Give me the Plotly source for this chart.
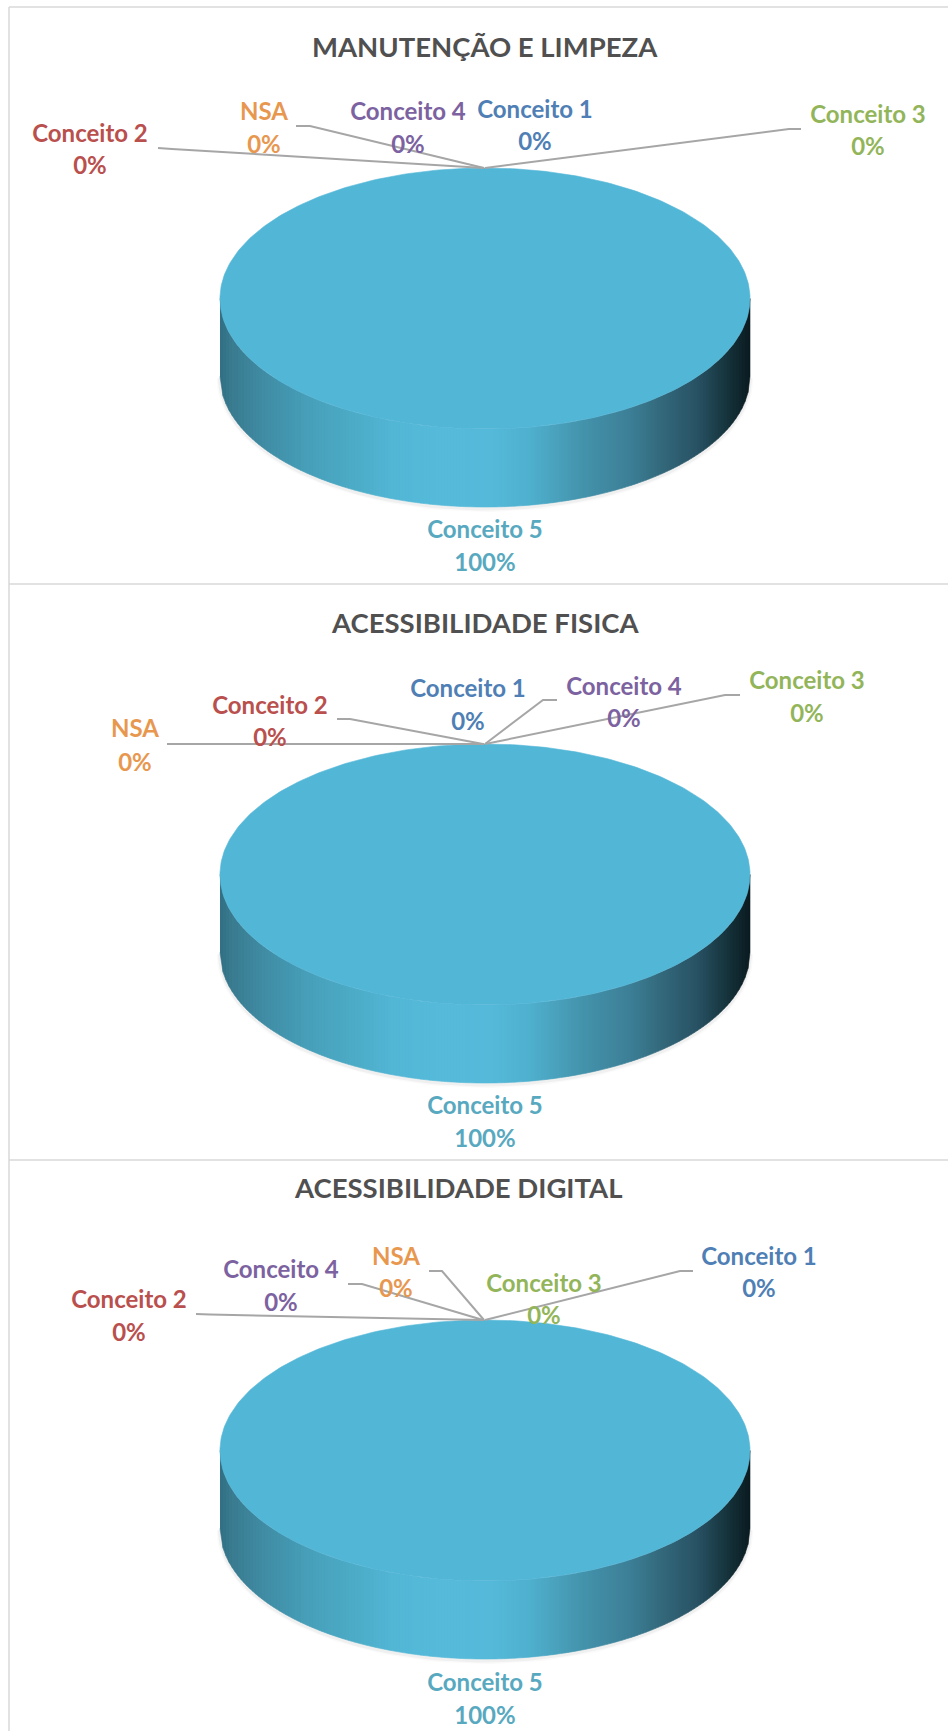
import math
import plotly.graph_objects as go

# ---- data ----
categories = ["Conceito 1", "Conceito 2", "Conceito 3", "Conceito 4", "Conceito 5", "NSA"]
chart_titles = ["MANUTENÇÃO E LIMPEZA", "ACESSIBILIDADE FISICA", "ACESSIBILIDADE DIGITAL"]
values_manutencao = [0, 0, 0, 0, 100, 0]
values_fisica = [0, 0, 0, 0, 100, 0]
values_digital = [0, 0, 0, 0, 100, 0]
all_values = [values_manutencao, values_fisica, values_digital]

# ---- style and layout ----
W, H = 948, 1731
FONT = "Lato"
label_colors = ["#4F7FB5", "#B9504E", "#93B55A", "#7C62A0", "#58A9C0", "#E8974F"]
title_color = "#505050"
leader_color = "#A6A6A6"
top_color = "#52B6D6"
side_stops = [(0.0, "#316F84"), (0.02, "#397A8E"), (0.075, "#3F8AA2"), (0.17, "#47A0BA"),
              (0.264, "#4DADC9"), (0.326, "#52B6D5"), (0.42, "#56BBDB"), (0.51, "#55BADA"),
              (0.585, "#4FB0CE"), (0.68, "#4494AD"), (0.774, "#3C7F96"), (0.836, "#33677A"),
              (0.90, "#285264"), (0.962, "#143038"), (1.0, "#0A1A20")]
CX, RX, RY, DEPTH = 485.0, 265.0, 130.5, 78.0
pie_tops = [168.0, 744.0, 1320.0]
title_pos = [(485, 46), (485, 622), (458, 1187)]
# label centre x, name y, value y (order follows categories)
label_pos = [
    [(535, 111.5, 143.5), (90, 135.5, 167.5), (868, 116.5, 148.5), (408, 113.5, 146.5), (485, 531.5, 564.5), (264, 113.5, 146.5)],
    [(468, 690.5, 723.5), (270, 707.5, 739.5), (807, 682.5, 715.5), (624, 688.5, 720.5), (485, 1107.5, 1140.5), (135, 730.5, 764.5)],
    [(759, 1258.5, 1290.5), (129, 1301.5, 1334.5), (544, 1285.5, 1317.5), (281, 1271.5, 1304.5), (485, 1684.5, 1717.5), (396, 1258.5, 1290.5)],
]
# leader polylines for each chart
leaders = [
    [[(158, 148), (172, 149), (484, 168)], [(296, 126), (310, 126), (484, 168)], [(801, 129), (789, 129), (485, 168)]],
    [[(167, 744), (484, 744)], [(337, 719), (350, 719), (483, 744)], [(557, 700), (543, 700), (485, 744)],
     [(740, 695), (725, 695), (485, 744)]],
    [[(196, 1314), (210, 1314.5), (484, 1320)], [(348, 1284), (362, 1284), (483, 1320)],
     [(429, 1271), (442, 1271), (484, 1320)], [(693, 1271), (680, 1271), (485, 1320)]],
]
border_color = "#D9D9D9"


def mix(t):
    for (a, ca), (b, cb) in zip(side_stops, side_stops[1:]):
        if t <= b:
            f = (t - a) / (b - a)
            rgb = [round(int(ca[i:i + 2], 16) * (1 - f) + int(cb[i:i + 2], 16) * f) for i in (1, 3, 5)]
            return "rgb(%d,%d,%d)" % tuple(rgb)
    return side_stops[-1][1]


def lower(x):
    return RY * math.sqrt(max(0.0, 1 - ((x - CX) / RX) ** 2))


fig = go.Figure()


def add_poly(xs, ys, color):
    fig.add_trace(go.Scatter(x=xs, y=ys, mode="lines", fill="toself", fillcolor=color,
                             line=dict(color=color, width=0.6), hoverinfo="skip", showlegend=False))


for chart, values in enumerate(all_values):
    top = pie_tops[chart]
    cy = top + RY
    total = sum(values)
    # soft shadow under the rim
    sx, sy = [], []
    for d in range(0, 181, 2):
        a = math.radians(d)
        sx.append(CX + RX * math.cos(a))
        sy.append(cy + DEPTH + RY * math.sin(a) + 1.5)
    for width, alpha in ((7, 0.02), (4, 0.04)):
        fig.add_trace(go.Scatter(x=sx, y=sy, mode="lines", line=dict(color="rgba(0,0,0,%g)" % alpha, width=width),
                                 hoverinfo="skip", showlegend=False))
    # rim and top of every slice, swept from its share of the total
    start = -90.0
    for name, v in zip(categories, values):
        sweep = 360.0 * v / total
        if sweep > 0:
            step = 3.0
            x0 = CX - RX
            while x0 < CX + RX:
                x1 = min(x0 + step, CX + RX)
                add_poly([x0, x1, x1, x0], [cy + lower(x0), cy + lower(x1), cy + DEPTH + lower(x1), cy + DEPTH + lower(x0)],
                         mix(((x0 + x1) / 2 - (CX - RX)) / (2 * RX)))
                x0 = x1
            n = max(2, int(sweep))
            xs = [CX + RX * math.cos(math.radians(start + sweep * i / n)) for i in range(n + 1)]
            ys = [cy + RY * math.sin(math.radians(start + sweep * i / n)) for i in range(n + 1)]
            add_poly(xs, ys, top_color)
        start += sweep
    for poly in leaders[chart]:
        fig.add_trace(go.Scatter(x=[p[0] for p in poly], y=[p[1] for p in poly], mode="lines",
                                 line=dict(color=leader_color, width=2), hoverinfo="skip", showlegend=False))
    pos = label_pos[chart]
    fig.add_trace(go.Scatter(
        x=[p[0] for p in pos] * 2,
        y=[p[1] for p in pos] + [p[2] for p in pos],
        text=categories + ["%d%%" % round(100 * v / total) for v in values],
        mode="text", textposition="middle center",
        textfont=dict(family=FONT, size=24, weight="bold", color=label_colors * 2),
        hoverinfo="skip", showlegend=False, cliponaxis=False))
    fig.add_annotation(x=title_pos[chart][0], y=title_pos[chart][1], text="<b>%s</b>" % chart_titles[chart],
                       showarrow=False, xanchor="center", yanchor="middle",
                       font=dict(family=FONT, size=27.5, color=title_color))

borders = [
    dict(x0=9, x1=948, y0=7, y1=7),
    dict(x0=9, x1=9, y0=7, y1=1731),
    dict(x0=9, x1=948, y0=584, y1=584),
    dict(x0=9, x1=948, y0=1160, y1=1160),
]
for b in borders:
    fig.add_shape(type="line", xref="x", yref="y", line=dict(color=border_color, width=1.5), layer="below", **b)

fig.update_layout(
    width=W, height=H, margin=dict(l=0, r=0, t=0, b=0), autosize=False,
    paper_bgcolor="white", plot_bgcolor="white", showlegend=False,
    xaxis=dict(range=[0, W], visible=False, fixedrange=True),
    yaxis=dict(range=[H, 0], visible=False, fixedrange=True),
)
fig.write_html("out.html", config={"displayModeBar": False},
               post_script="document.body.style.margin='0';document.documentElement.style.overflow='hidden';")
